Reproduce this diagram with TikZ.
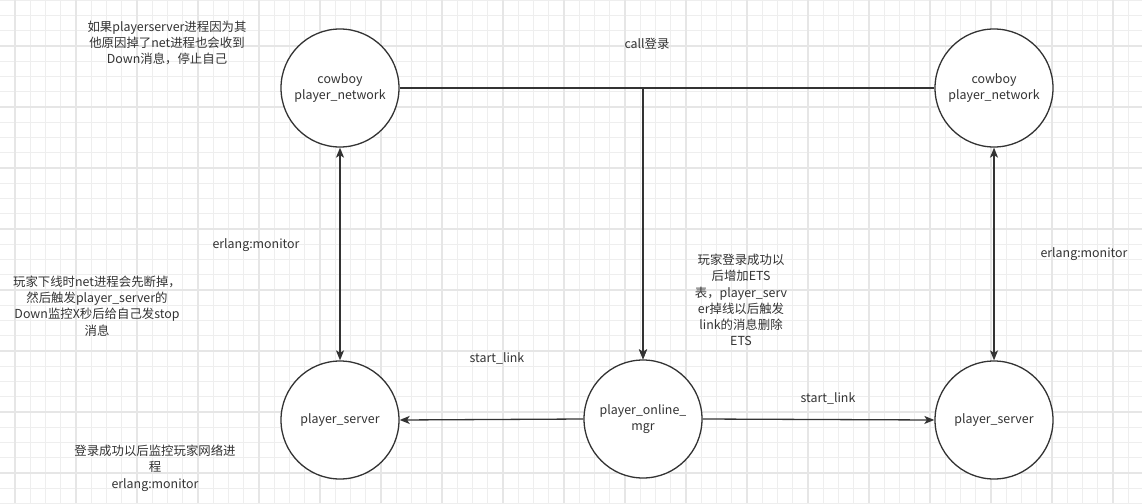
\documentclass[tikz,border=0pt]{standalone}
\usepackage{fontspec}
\newfontfamily\cjk{Noto Sans CJK SC}
\usetikzlibrary{arrows.meta}
\definecolor{ink}{HTML}{333333}
\definecolor{gridminor}{HTML}{EEEEEE}
\definecolor{gridmajor}{HTML}{E6E6E6}
\tikzset{
  proc/.style={circle, draw=ink, line width=1.3pt, fill=white, minimum size=118pt, inner sep=0pt, align=center, text=ink},
  lbl/.style={align=center, text=ink, inner sep=0pt},
  conn/.style={draw=ink, line width=1.3pt},
  tip/.style={-{Stealth[length=10pt,width=8pt,inset=2.5pt]}},
  tips/.style={{Stealth[length=10pt,width=8pt,inset=2.5pt]}-{Stealth[length=10pt,width=8pt,inset=2.5pt]}},
}
\begin{document}
\begin{tikzpicture}[x=1pt,y=-1pt,font=\cjk\fontsize{12.4}{16.3}\selectfont]
\useasboundingbox (0,0) rectangle (1142,503);
\fill[white] (0,0) rectangle (1142,503);
% grid
\foreach \i in {0,...,75} {\draw[gridminor, line width=1pt] (-0.25+15.25*\i,0) -- ++(0,503);}
\foreach \j in {0,...,33} {\draw[gridminor, line width=1pt] (0,0.25+15.25*\j) -- ++(1142,0);}
\foreach \i in {0,...,18} {\draw[gridmajor, line width=1.4pt] (15+61*\i,0) -- ++(0,503);}
\foreach \j in {0,...,7} {\draw[gridmajor, line width=1.4pt] (0,46+61*\j) -- ++(1142,0);}
% nodes
\node[proc] (lc) at (340,88) {cowboy\\player\_network};
\node[proc] (rc) at (994,88) {cowboy\\player\_network};
\node[proc] (ls) at (340,420) {player\_server};
\node[proc] (mgr) at (643,419) {player\_online\_\\mgr};
\node[proc] (rs) at (994,420) {player\_server};
% connectors
\draw[conn,tip] (lc.east) -| (mgr.north);
\draw[conn,tip] (rc.west) -| (mgr.north);
\draw[conn,tips] (lc.south) -- (ls.north);
\draw[conn,tips] (rc.south) -- (rs.north);
\draw[conn,tip] (mgr.west) -- (ls.east);
\draw[conn,tip] (mgr.east) -- (rs.west);
% labels
\node[lbl] (t1) at (167,43) {如果playerserver进程因为其\\他原因掉了net进程也会收到\\Down消息，停止自己};
\node[lbl] (t2) at (647,44) {call登录};
\node[lbl] (t3) at (256,245) {erlang:monitor};
\node[lbl] (t4) at (1084,254) {erlang:monitor};
\node[lbl] (t5) at (97,306) {玩家下线时net进程会先断掉，\\然后触发player\_server的\\Down监控X秒后给自己发stop\\消息};
\node[lbl] (t6) at (741,300) {玩家登录成功以\\后增加ETS\\表，player\_serv\\er掉线以后触发\\link的消息删除\\ETS};
\node[lbl] (t7) at (497,358) {start\_link};
\node[lbl] (t8) at (828,398) {start\_link};
\node[lbl] (t9) at (155,468) {登录成功以后监控玩家网络进\\程\\erlang:monitor};
\end{tikzpicture}
\end{document}
